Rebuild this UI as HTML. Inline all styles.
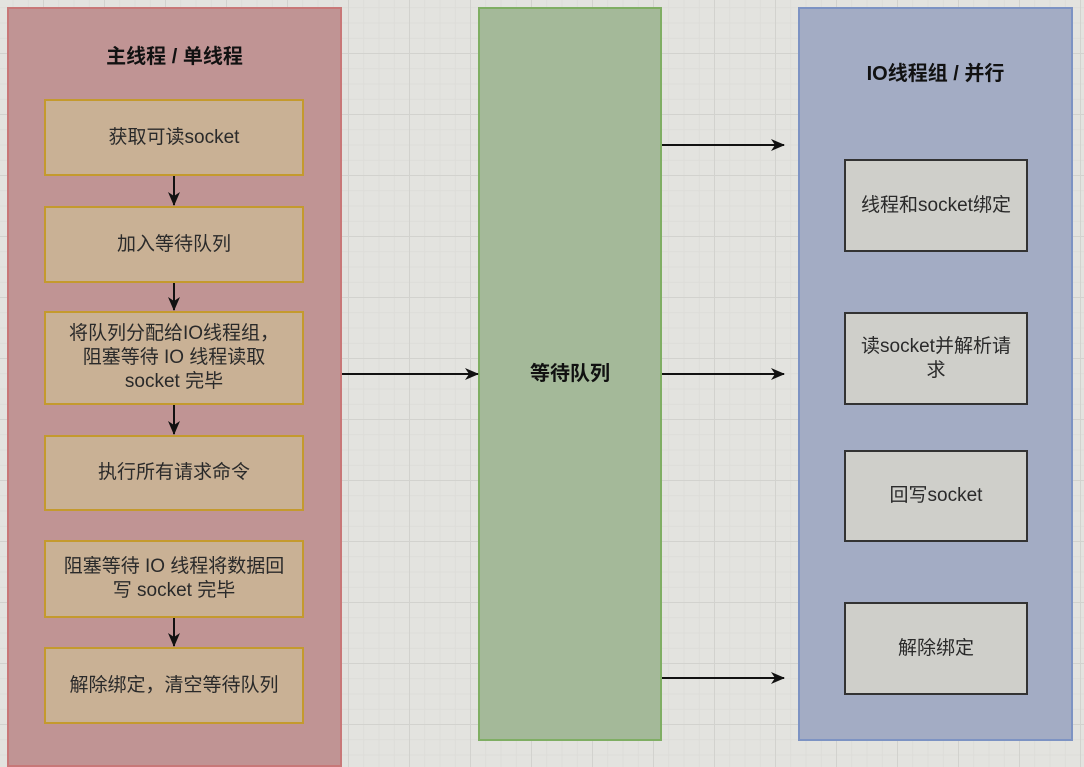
<!DOCTYPE html>
<html><head><meta charset="utf-8"><style>
body{margin:0;width:1084px;height:754px;overflow:hidden;background:#e3e3df;font-family:"Liberation Sans","Noto Sans CJK SC",sans-serif;position:relative;
background-image:linear-gradient(#d2d2ce 1px,transparent 1px),linear-gradient(90deg,#d2d2ce 1px,transparent 1px),linear-gradient(#dddcd8 1px,transparent 1px),linear-gradient(90deg,#dddcd8 1px,transparent 1px);
background-size:61px 61px,61px 61px,15.25px 15.25px,15.25px 15.25px;background-position:0 53px,43px 0,0 53px,43px 0;}
.c{position:absolute;box-sizing:border-box}
.t{display:flex;align-items:center;justify-content:center;text-align:center;font-size:19px;color:#2a2a2a;line-height:24px}
.b{background:#c9b195;border:2px solid #c49a2e;left:44px;width:260px}
.g{background:#cfcfca;border:2px solid #333;left:844px;width:184px}
.h{font-weight:bold;font-size:20px;color:#111;position:absolute;text-align:center}
</style></head><body>
<div class="c" style="left:7px;top:7px;width:335px;height:760px;background:#c09494;border:2px solid #c87878"></div>
<div class="c t" style="left:478px;top:7px;width:184px;height:734px;background:#a4b999;border:2px solid #7fae63;font-weight:bold;font-size:20px;color:#111">等待队列</div>
<div class="c" style="left:798px;top:7px;width:275px;height:734px;background:#a3acc4;border:2px solid #7d93c3"></div>
<div class="h" style="left:7px;width:335px;top:40px">主线程 / 单线程</div>
<div class="h" style="left:798px;width:275px;top:57px">IO线程组 / 并行</div>
<div class="c t b" style="top:99px;height:77px">获取可读socket</div>
<div class="c t b" style="top:206px;height:77px">加入等待队列</div>
<div class="c t b" style="top:311px;height:94px">将队列分配给IO线程组，<br>阻塞等待 IO 线程读取<br>socket 完毕</div>
<div class="c t b" style="top:435px;height:76px">执行所有请求命令</div>
<div class="c t b" style="top:540px;height:78px">阻塞等待 IO 线程将数据回<br>写 socket 完毕</div>
<div class="c t b" style="top:647px;height:77px">解除绑定，清空等待队列</div>
<div class="c t g" style="top:159px;height:93px">线程和socket绑定</div>
<div class="c t g" style="top:312px;height:93px">读socket并解析请<br>求</div>
<div class="c t g" style="top:450px;height:92px">回写socket</div>
<div class="c t g" style="top:602px;height:93px">解除绑定</div>
<svg class="c" style="left:0;top:0" width="1084" height="754">
<defs><marker id="a" markerWidth="14" markerHeight="12" refX="13" refY="6" orient="auto" markerUnits="userSpaceOnUse"><path d="M0,0L14,6L0,12L4,6z" fill="#111"/></marker></defs>
<g stroke="#111" stroke-width="2" fill="none" marker-end="url(#a)">
<line x1="174" y1="176" x2="174" y2="205"/>
<line x1="174" y1="283" x2="174" y2="310"/>
<line x1="174" y1="405" x2="174" y2="434"/>
<line x1="174" y1="618" x2="174" y2="646"/>
<line x1="342" y1="374" x2="478" y2="374"/>
<line x1="662" y1="145" x2="784" y2="145"/>
<line x1="662" y1="374" x2="784" y2="374"/>
<line x1="662" y1="678" x2="784" y2="678"/>
</g></svg>
</body></html>
